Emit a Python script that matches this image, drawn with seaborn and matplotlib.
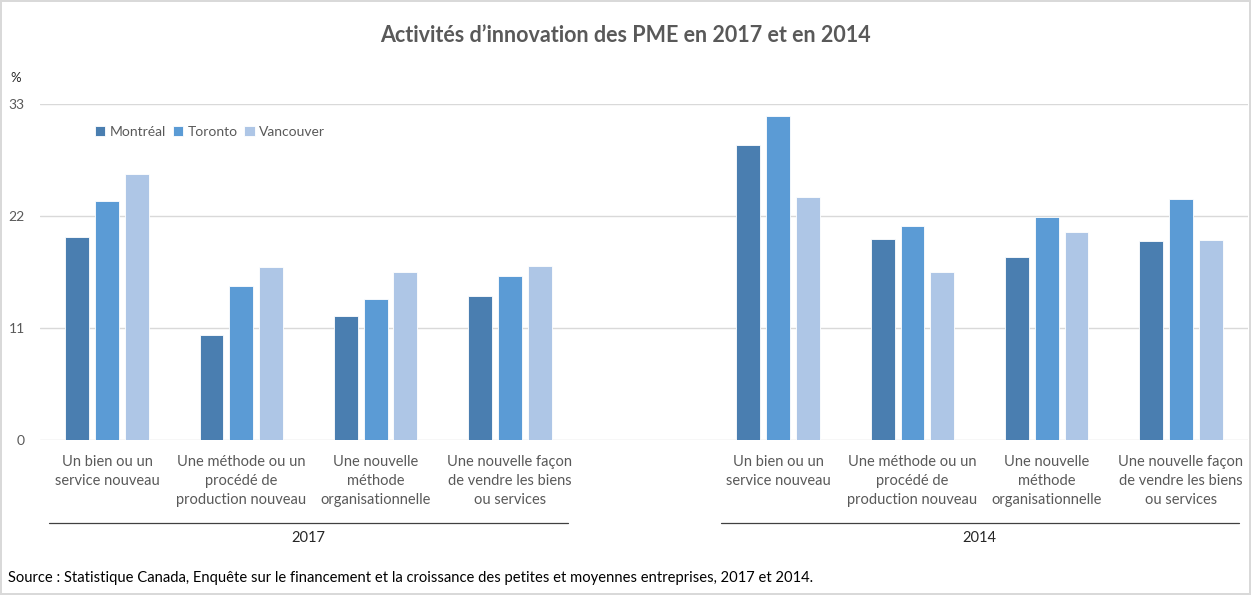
import pandas as pd
import seaborn as sns
import matplotlib.pyplot as plt
import matplotlib.transforms as mtransforms

# Data (%)
categories = ['Un bien ou un\nservice nouveau',
              'Une méthode ou un\nprocédé de\nproduction nouveau',
              'Une nouvelle\nméthode\norganisationnelle',
              'Une nouvelle façon\nde vendre les biens\nou services']
years = ['2017', '2014']
villes = ['Montréal', 'Toronto', 'Vancouver']

montreal_2017 = [19.9, 10.3, 12.2, 14.1]
toronto_2017 = [23.5, 15.1, 13.8, 16.1]
vancouver_2017 = [26.1, 17.0, 16.5, 17.1]
montreal_2014 = [29.0, 19.7, 18.0, 19.5]
toronto_2014 = [31.8, 21.0, 21.9, 23.7]
vancouver_2014 = [23.9, 16.5, 20.4, 19.6]

yticks = [0, 11, 22, 33]
colors = ['#4a7eb0', '#5b9bd5', '#aec6e6']

title = 'Activités d\u2019innovation des PME en 2017 et en 2014'
source = ('Source : Statistique Canada, Enquête sur le financement et la croissance '
          'des petites et moyennes entreprises, 2017 et 2014.')

####Build long table
values = {
    ('2017', 'Montréal'): montreal_2017,
    ('2017', 'Toronto'): toronto_2017,
    ('2017', 'Vancouver'): vancouver_2017,
    ('2014', 'Montréal'): montreal_2014,
    ('2014', 'Toronto'): toronto_2014,
    ('2014', 'Vancouver'): vancouver_2014,
}
rows = []
for (year, ville), vals in values.items():
    for i, v in enumerate(vals):
        rows.append({'cat': f'{year}_{i}', 'ville': ville, 'val': v})
df = pd.DataFrame(rows)

# empty slot between the two years
order = [f'2017_{i}' for i in range(4)] + ['gap'] + [f'2014_{i}' for i in range(4)]
ticklabels = categories + [''] + categories

sns.set_style('white')
plt.rcParams['font.family'] = ['Lato', 'DejaVu Sans']
grey = '#595959'

fig = plt.figure(figsize=(12.51, 5.95), dpi=100)
ax = fig.add_axes([0.032, 0.2605, 0.9656, 0.5647])

sns.barplot(data=df, x='cat', y='val', hue='ville', order=order,
            hue_order=villes, palette=colors, saturation=1, width=0.667, gap=0.2,
            edgecolor='white', linewidth=0.6, errorbar=None, ax=ax)

ax.set_ylim(0, 33)
ax.set_xlim(-0.5, 8.5)
ax.set_yticks(yticks)
ax.set_yticklabels([str(t) for t in yticks], fontsize=10, color=grey)
ax.set_xticks(range(len(order)))
ax.set_xticklabels(ticklabels, fontsize=10.5, color=grey, linespacing=1.45)
ax.tick_params(axis='both', length=0)
ax.tick_params(axis='y', pad=11)
ax.tick_params(axis='x', pad=11)
ax.set_xlabel('')
ax.set_ylabel('')
ax.yaxis.grid(True, color='#d9d9d9', linewidth=1)
ax.set_axisbelow(True)
for s in ax.spines.values():
    s.set_visible(False)

#Legend
ax.legend(loc='center left', bbox_to_anchor=(0.066, 0.778),
          bbox_transform=fig.transFigure, ncol=3, frameon=False,
          fontsize=10, labelcolor=grey, handlelength=0.75, handleheight=0.75,
          handletextpad=0.3, columnspacing=0.5)

#Year group labels
trans = mtransforms.blended_transform_factory(ax.transData, fig.transFigure)
for year, center in zip(years, [1.5, 6.5]):
    ax.plot([center - 1.93, center + 1.93], [0.121, 0.121], color='#404040',
            linewidth=0.9, transform=trans, clip_on=False)
    ax.text(center, 0.095, year, transform=trans, ha='center', va='center',
            fontsize=10.5, color='#262626')

fig.text(0.5, 0.941, title, ha='center', va='center', fontsize=15.5,
         fontweight='bold', color=grey)
fig.text(0.008, 0.869, '%', ha='left', va='center', fontsize=9.5, color='#262626')
fig.text(0.0064, 0.0286, source, ha='left', va='center', fontsize=10.6, color='black')

fig.patch.set_edgecolor('#d9d9d9')
fig.patch.set_linewidth(1.5)

fig.savefig('out.png', dpi=100, edgecolor=fig.get_edgecolor())
